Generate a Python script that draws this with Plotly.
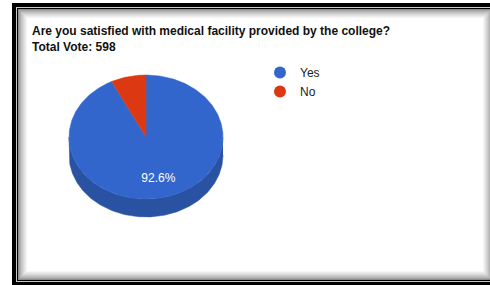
import numpy as np
import plotly.graph_objects as go

# ---- data ----
labels = ["Yes", "No"]
votes = [554, 44]
top_colors = ["#3366cc", "#dc3912"]
side_colors = ["#2a52a3", "#a52b0e"]
title_text = "Are you satisfied with medical facility provided by the college?"

total = sum(votes)
W, H = 490, 285
FONT = "Liberation Sans, Arial, sans-serif"

# pie geometry (pixel units on axes)
cx, cy, rx, ry, depth = 146, 137, 77, 62, 18


def ell(theta_deg, dy=0.0):
    t = np.radians(theta_deg)
    return cx + rx * np.sin(t), cy - ry * np.cos(t) + dy


fig = go.Figure()

# ---- frame decoration ----
shapes = []
def rect(x0, y0, x1, y1, color):
    shapes.append(dict(type="rect", xref="x", yref="y", x0=x0, y0=y0, x1=x1, y1=y1,
                       fillcolor=color, line=dict(width=0), layer="below"))

rect(12, 3, 700, 700, "#000000")
rect(16, 7, 700, 282, "#c8c8c8")
rect(17, 8, 700, 281, "#000000")
n_sh = 10
for k in range(n_sh):
    f = (k / (n_sh - 1)) ** 0.7
    g = int(140 + (255 - 140) * f)
    rect(18 + k, 9 + k, 492 - k, 280 - k, f"rgb({g},{g},{g})")

# ---- slices ----
angles = np.cumsum([0.0] + [v / total * 360.0 for v in votes])

# side walls (front half only)
for i in range(len(votes)):
    a0, a1 = angles[i], angles[i + 1]
    lo, hi = max(a0, 90.0), min(a1, 270.0)
    if hi > lo:
        th = np.linspace(lo, hi, int(hi - lo) + 2)
        xt, yt = ell(th)
        xb, yb = ell(th[::-1], depth)
        fig.add_trace(go.Scatter(
            x=np.concatenate([xt, xb]), y=np.concatenate([yt, yb]),
            mode="lines", fill="toself", fillcolor=side_colors[i],
            line=dict(color=side_colors[i], width=0.5),
            showlegend=False, hoverinfo="skip"))

# top faces
for i in range(len(votes)):
    a0, a1 = angles[i], angles[i + 1]
    th = np.linspace(a0, a1, int(a1 - a0) + 2)
    xs, ys = ell(th)
    fig.add_trace(go.Scatter(
        x=np.concatenate([[cx], xs, [cx]]), y=np.concatenate([[cy], ys, [cy]]),
        mode="lines", fill="toself", fillcolor=top_colors[i],
        line=dict(color=top_colors[i], width=0.5),
        showlegend=False, hoverinfo="skip"))

# percentage labels
for i in range(len(votes)):
    share = votes[i] / total
    if share >= 0.1:
        mid = (angles[i] + angles[i + 1]) / 2
        t = np.radians(mid)
        lx = cx + 0.7 * rx * np.sin(t)
        ly = cy - 0.7 * ry * np.cos(t)
        fig.add_trace(go.Scatter(
            x=[lx], y=[ly], mode="text", text=[f"{share * 100:.1f}%"],
            textfont=dict(color="#ffffff", size=12, family=FONT),
            showlegend=False, hoverinfo="skip"))

# legend entries
for i in range(len(labels)):
    fig.add_trace(go.Scatter(
        x=[None], y=[None], mode="markers", name=labels[i],
        marker=dict(color=top_colors[i], size=12, symbol="circle")))

# ---- titles ----
annotations = [
    dict(x=30, y=38.5, xref="x", yref="y", xanchor="left", yanchor="middle",
         align="left",
         text=f"<b>{title_text}</b><br><b>Total Vote: {total}</b>", showarrow=False,
         font=dict(family=FONT, size=12, color="#111111")),
]

fig.update_layout(
    width=W, height=H,
    margin=dict(l=0, r=0, t=0, b=0),
    paper_bgcolor="#ffffff", plot_bgcolor="#ffffff",
    xaxis=dict(range=[0, W], visible=False, fixedrange=True),
    yaxis=dict(range=[H, 0], visible=False, fixedrange=True),
    shapes=shapes,
    annotations=annotations,
    showlegend=True,
    legend=dict(x=260 / W, y=1 - 58 / H, xanchor="left", yanchor="top",
                bgcolor="rgba(0,0,0,0)", borderwidth=0,
                font=dict(family=FONT, size=12, color="#222222")),
    hovermode=False,
)

fig.write_html("out.html", config={"displayModeBar": False},
               post_script="document.body.style.margin='0';document.body.style.overflow='hidden';")
